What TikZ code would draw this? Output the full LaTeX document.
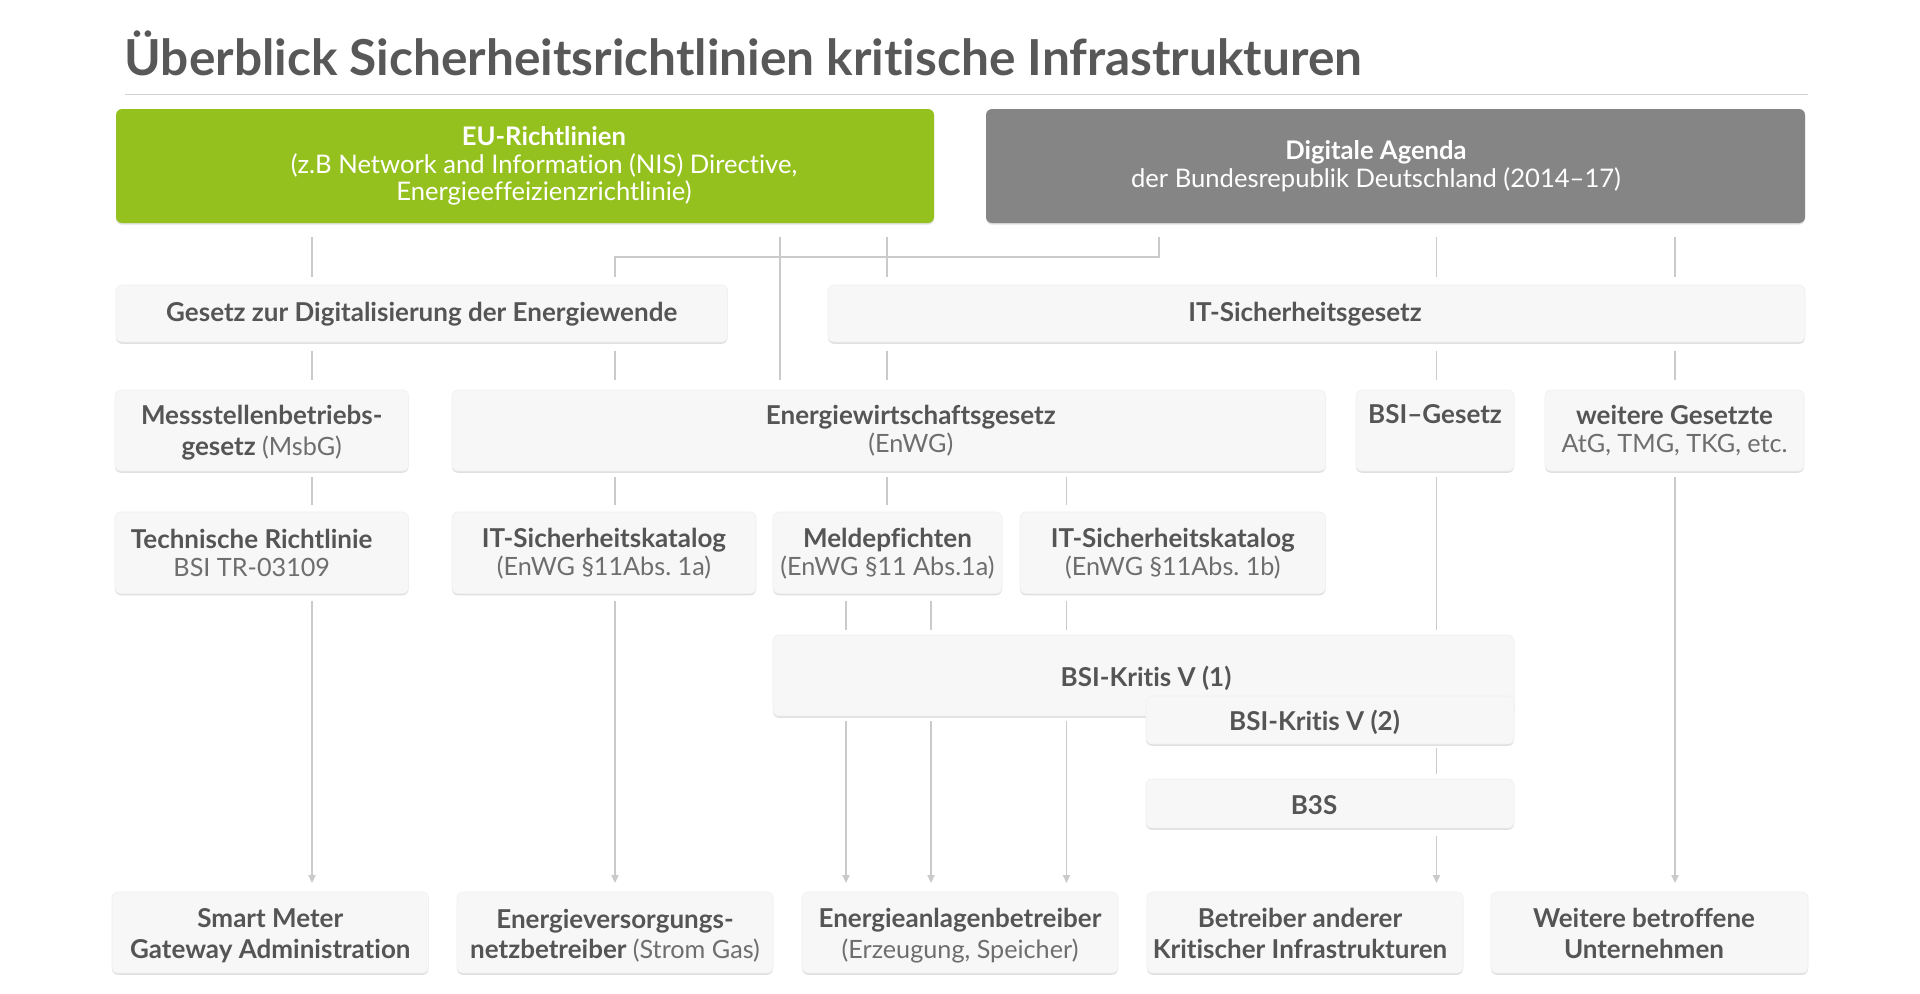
\documentclass[tikz,border=0pt]{standalone}
\usepackage{fontspec}
\setmainfont{Lato}[Ligatures={NoCommon}]
\frenchspacing
\usetikzlibrary{arrows.meta,shadows}
\definecolor{eugreen}{HTML}{95C11F}
\definecolor{agray}{HTML}{858585}
\definecolor{boxfill}{HTML}{F7F7F7}
\definecolor{linec}{HTML}{CACACA}
\definecolor{txtdark}{HTML}{555555}
\definecolor{txtlight}{HTML}{6E6E6E}
\definecolor{titlec}{HTML}{585858}
\definecolor{rulec}{HTML}{D2D2D2}
\newcommand\lt[1]{{\mdseries\fontsize{12.6}{14}\selectfont\color{txtlight}#1}}
\newcommand\bx[6][panel]{\node[#1, minimum width={(#4-#2)*0.5pt}, minimum height={(#5-#3)*0.5pt}] (#6) at (#2,#3) {};}
\tikzset{
  boxbase/.style={rectangle, rounded corners=3pt, inner sep=0pt, outer sep=0pt, anchor=north west},
  panel/.style={boxbase, fill=boxfill, draw=black!6, line width=0.3pt,
    drop shadow={shadow xshift=0pt, shadow yshift=-0.9pt, opacity=0.12, fill=black}},
  eubox/.style={boxbase, fill=eugreen, drop shadow={shadow xshift=0pt, shadow yshift=-0.8pt, opacity=0.12, fill=black}},
  dabox/.style={boxbase, fill=agray, drop shadow={shadow xshift=0pt, shadow yshift=-0.8pt, opacity=0.12, fill=black}},
  txt/.style={align=center, text=txtdark, font=\fontsize{13}{15.3}\selectfont\bfseries\frenchspacing, inner sep=0pt},
  txtn/.style={txt, font=\fontsize{13}{13.9}\selectfont\bfseries\frenchspacing},
  htxt/.style={align=center, text=white, font=\fontsize{12.8}{13.75}\selectfont\frenchspacing, inner sep=0pt},
  conn/.style={draw=linec, line width=0.7pt},
  arr/.style={conn, -{Triangle[width=3.6pt,length=4pt]}},
}
\begin{document}
\begin{tikzpicture}[x=0.5pt, y=-0.5pt]
\useasboundingbox[fill=white] (0,0) rectangle (1920,993);

% title and rule
\node[anchor=base west, inner sep=0pt, text=titlec, font=\fontsize{24.8}{28}\selectfont\bfseries] (title) at (124,75) {Überblick Sicherheitsrichtlinien kritische Infrastrukturen};
\coordinate (r1) at (125,94.3);
\coordinate (r2) at (1808,94.3);
\draw[rulec, line width=0.8pt] (r1) -- (r2);

% boxes
\bx[eubox]{116}{109}{934}{223}{eu}
\bx[dabox]{986}{109}{1805}{223}{da}
\bx{116}{285}{727.5}{342}{gesetz}
\bx{828}{285}{1805}{342}{itsg}
\bx{115}{390}{408.5}{471}{mess}
\bx{452}{390}{1325.6}{471}{enwg}
\bx{1356}{390}{1514}{471}{bsi}
\bx{1545}{390}{1804}{471}{weit}
\bx{115}{512}{408.5}{593.5}{tech}
\bx{452}{512}{756}{593.5}{ita}
\bx{773}{512}{1002}{593.5}{meld}
\bx{1020}{512}{1325.6}{593.5}{itb}
\bx{773}{635}{1514}{716}{vone}
\bx{1146}{696}{1514}{744}{vtwo}
\bx{1146}{779}{1514}{828}{bdrei}
\bx{112}{892}{428.6}{973}{smart}
\bx{457}{892}{773}{973}{ev}
\bx{802}{892}{1118}{973}{ea}
\bx{1147}{892}{1463}{973}{ba}
\bx{1491}{892}{1808}{973}{wb}

% texts
\node[htxt] (t-eu) at ([xshift=9.5pt]eu.center) {\textbf{EU-Richtlinien}\\(z.B Network and Information (NIS) Directive,\\Energieeffeizienzrichtlinie)};
\node[htxt] (t-da) at ([xshift=-9.75pt]da.center) {\textbf{Digitale Agenda}\\der Bundesrepublik Deutschland (2014–17)};
\node[txt] (t-gesetz) at ([yshift=-0.5pt]gesetz.center) {Gesetz zur Digitalisierung der Energiewende};
\node[txt] (t-itsg) at ([xshift=-5.75pt,yshift=-0.5pt]itsg.center) {IT-Sicherheitsgesetz};
\node[txt] (t-mess) at ([yshift=-1pt]mess.center) {Messstellenbetriebs-\\gesetz \lt{(MsbG)}};
\node[txtn] (t-enwg) at ([xshift=11pt]enwg.center) {Energiewirtschaftsgesetz\\\lt{(EnWG)}};
\node[txt, anchor=base] (t-bsi) at ([yshift=-16.5pt]bsi.north) {BSI–Gesetz};
\node[txtn] (t-weit) at (weit.center) {weitere Gesetzte\\\lt{AtG, TMG, TKG, etc.}};
\node[txtn] (t-tech) at ([xshift=-5pt]tech.center) {Technische Richtlinie\\\lt{BSI TR-03109}};
\node[txtn] (t-ita) at ([yshift=-0.5pt]ita.center) {IT-Sicherheitskatalog\\\lt{(EnWG §11Abs. 1a)}};
\node[txtn] (t-meld) at ([yshift=-0.5pt]meld.center) {Meldepfichten\\\lt{(EnWG §11 Abs.1a)}};
\node[txtn] (t-itb) at ([yshift=-0.5pt]itb.center) {IT-Sicherheitskatalog\\\lt{(EnWG §11Abs. 1b)}};
\node[txt] (t-vone) at ([xshift=1.25pt,yshift=-1.5pt]vone.center) {BSI-Kritis V (1)};
\node[txt] (t-vtwo) at ([xshift=-7.75pt,yshift=-1pt]vtwo.center) {BSI-Kritis V (2)};
\node[txt] (t-bdrei) at ([xshift=-8pt,yshift=-1pt]bdrei.center) {B3S};
\node[txt] (t-smart) at ([yshift=-1.6pt]smart.center) {Smart Meter\\Gateway Administration};
\node[txt] (t-ev) at ([yshift=-1.6pt]ev.center) {Energieversorgungs-\\netzbetreiber \lt{(Strom Gas)}};
\node[txt] (t-ea) at ([yshift=-1.6pt]ea.center) {Energieanlagenbetreiber\\\lt{(Erzeugung, Speicher)}};
\node[txt] (t-ba) at ([xshift=-2.5pt,yshift=-0.6pt]ba.center) {Betreiber anderer\\Kritischer Infrastrukturen};
\node[txt] (t-wb) at ([xshift=-2.75pt,yshift=-0.6pt]wb.center) {Weitere betroffene\\Unternehmen};

% column coordinates
\coordinate (c312) at (312,0);
\coordinate (c615) at (615,0);
\coordinate (c780) at (780,0);
\coordinate (c846) at (846,0);
\coordinate (c887) at (887,0);
\coordinate (c931) at (931,0);
\coordinate (c1066) at (1066.5,0);
\coordinate (c1159) at (1159,0);
\coordinate (c1436) at (1436.5,0);
\coordinate (c1675) at (1675,0);
\coordinate (jl) at (615,257);
\coordinate (jr) at (1159,257);

% row 1 -> row 2
\draw[conn, shorten <=7pt, shorten >=4pt] (eu.south -| c312) -- (gesetz.north -| c312);
\draw[conn, shorten <=7pt, shorten >=5pt] (eu.south -| c780) -- (enwg.north -| c780);
\draw[conn, shorten <=7pt, shorten >=4pt] (eu.south -| c887) -- (itsg.north -| c887);
\draw[conn, shorten >=4pt] ([yshift=-7pt]da.south -| jr) -- (jr) -- (jl) -- (gesetz.north -| jl);
\draw[conn, shorten <=7pt, shorten >=4pt] (da.south -| c1436) -- (itsg.north -| c1436);
\draw[conn, shorten <=7pt, shorten >=4pt] (da.south -| c1675) -- (itsg.north -| c1675);

% row 2 -> row 3
\draw[conn, shorten <=4.5pt, shorten >=5pt] (gesetz.south -| c312) -- (mess.north -| c312);
\draw[conn, shorten <=4.5pt, shorten >=5pt] (gesetz.south -| c615) -- (enwg.north -| c615);
\draw[conn, shorten <=4.5pt, shorten >=5pt] (itsg.south -| c887) -- (enwg.north -| c887);
\draw[conn, shorten <=4.5pt, shorten >=5pt] (itsg.south -| c1436) -- (bsi.north -| c1436);
\draw[conn, shorten <=4.5pt, shorten >=5pt] (itsg.south -| c1675) -- (weit.north -| c1675);

% row 3 -> row 4
\draw[conn, shorten <=3pt, shorten >=3.5pt] (mess.south -| c312) -- (tech.north -| c312);
\draw[conn, shorten <=3pt, shorten >=3.5pt] (enwg.south -| c615) -- (ita.north -| c615);
\draw[conn, shorten <=3pt, shorten >=3.5pt] (enwg.south -| c887) -- (meld.north -| c887);
\draw[conn, shorten <=3pt, shorten >=3.5pt] (enwg.south -| c1066) -- (itb.north -| c1066);
\draw[conn, shorten <=3pt, shorten >=2.75pt] (bsi.south -| c1436) -- (vone.north -| c1436);
\draw[arr, shorten <=3pt, shorten >=4.5pt] (weit.south -| c1675) -- (wb.north -| c1675);

% row 4 -> below
\draw[arr, shorten <=3.5pt, shorten >=4.5pt] (tech.south -| c312) -- (smart.north -| c312);
\draw[arr, shorten <=3.5pt, shorten >=4.5pt] (ita.south -| c615) -- (ev.north -| c615);
\draw[conn, shorten <=3.5pt, shorten >=2.75pt] (meld.south -| c846) -- (vone.north -| c846);
\draw[conn, shorten <=3.5pt, shorten >=2.75pt] (meld.south -| c931) -- (vone.north -| c931);
\draw[conn, shorten <=3.5pt, shorten >=2.75pt] (itb.south -| c1066) -- (vone.north -| c1066);

% BSI-Kritis -> bottom
\draw[arr, shorten <=2.5pt, shorten >=4.5pt] (vone.south -| c846) -- (ea.north -| c846);
\draw[arr, shorten <=2.5pt, shorten >=4.5pt] (vone.south -| c931) -- (ea.north -| c931);
\draw[arr, shorten <=2.5pt, shorten >=4.5pt] (vone.south -| c1066) -- (ea.north -| c1066);
\draw[conn, shorten <=2pt, shorten >=2.5pt] (vtwo.south -| c1436) -- (bdrei.north -| c1436);
\draw[arr, shorten <=4pt, shorten >=4.5pt] (bdrei.south -| c1436) -- (ba.north -| c1436);
\end{tikzpicture}
\end{document}
